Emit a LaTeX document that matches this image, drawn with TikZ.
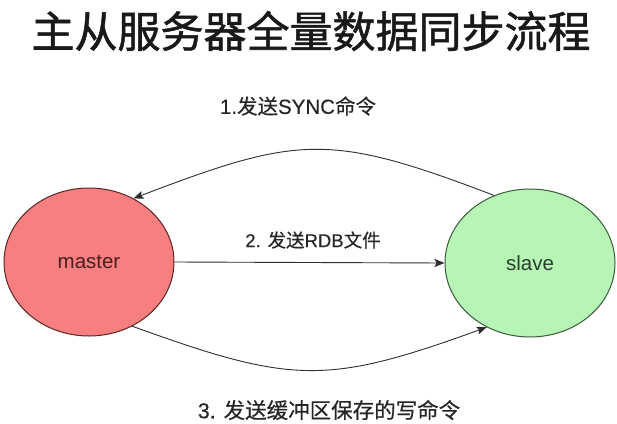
\documentclass[tikz,border=0pt]{standalone}
\usepackage{fontspec}
\setmainfont{Noto Sans CJK SC}
\newfontfamily\latfont{Liberation Sans}
\newfontfamily\headfont[FakeBold=1.2]{Noto Sans CJK SC}
\newfontfamily\labelfont[FakeBold=0.4]{Noto Sans CJK SC}
\newfontfamily\labellat[FakeBold=0.4]{Liberation Sans}
\newcommand{\lt}[1]{{\labellat #1}}
\usetikzlibrary{shapes.geometric,arrows.meta}

\definecolor{masterfill}{HTML}{F77F7F}
\definecolor{masterline}{HTML}{5A2626}
\definecolor{slavefill}{HTML}{B6F5B6}
\definecolor{slaveline}{HTML}{3A5A3A}
\definecolor{wire}{HTML}{2E2E2E}

\tikzset{
  server/.style={ellipse, draw, line width=1pt, minimum width=170pt,
    minimum height=148pt, inner sep=0pt, font=\latfont\fontsize{20.5}{24}\selectfont},
  flow/.style={draw=wire, line width=0.9pt,
    -{Stealth[length=10pt,width=8pt,inset=2pt]}},
  steplabel/.style={font=\labelfont\fontsize{20.5}{24}\selectfont, text=black!85, inner sep=0pt},
  heading/.style={font=\headfont\fontsize{43}{50}\selectfont, text=black!90, inner sep=0pt}
}

\begin{document}
\begin{tikzpicture}[x=1pt,y=-1pt]
  \useasboundingbox (0,0) rectangle (617,423);

  % title
  \node[heading] (title) at (311,31) {主从服务器全量数据同步流程};

  % the two servers
  \node[server, fill=masterfill, draw=masterline, text=masterline!80!black] (master) at (89,262) {master};
  \node[server, fill=slavefill, draw=slaveline, text=slaveline!70!black] (slave) at (530,263) {slave};

  % step 1: slave -> master
  \draw[flow] (slave.118) .. controls +(-165,-63) and +(165,-63) .. (master.55);
  \node[steplabel] (s1) at (298,106) {\lt{1.}发送\lt{SYNC}命令};

  % step 2: master -> slave
  \draw[flow] (master.east) -- (slave.west);
  \node[steplabel, font=\labelfont\fontsize{18.5}{22}\selectfont] (s2) at (313,240) {\lt{2. }发送\lt{RDB}文件};

  % step 3: master -> slave, lower arc
  \draw[flow] (master.-56) .. controls +(160,58) and +(-160,58) .. (slave.236);
  \node[steplabel, font=\labelfont\fontsize{21.5}{25}\selectfont] (s3) at (329,410) {\lt{3. }发送缓冲区保存的写命令};
\end{tikzpicture}
\end{document}
